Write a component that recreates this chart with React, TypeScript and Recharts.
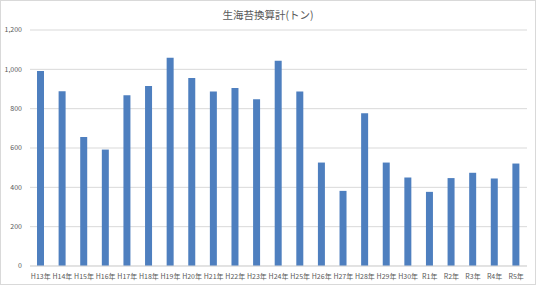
import { BarChart, Bar, XAxis, YAxis, CartesianGrid } from "recharts";

const years = [
  "H13年", "H14年", "H15年", "H16年", "H17年", "H18年", "H19年", "H20年",
  "H21年", "H22年", "H23年", "H24年", "H25年", "H26年", "H27年", "H28年",
  "H29年", "H30年", "R1年", "R2年", "R3年", "R4年", "R5年",
];

const tons = [
  991, 888, 656, 592, 868, 915, 1059, 956,
  887, 905, 848, 1044, 887, 526, 382, 777,
  526, 450, 377, 447, 474, 445, 521,
];

const yTicks = [0, 200, 400, 600, 800, 1000, 1200];

const data = years.map((name, i) => ({ name, value: tons[i] }));

const font = "'Noto Sans CJK JP', 'Noto Sans', sans-serif";

export default function App() {
  return (
    <div
      style={{
        position: "fixed",
        left: 0,
        top: 0,
        width: 536,
        height: 285,
        background: "#fff",
        border: "1px solid #d9d9d9",
        boxSizing: "border-box",
        fontFamily: font,
      }}
    >
      <div
        style={{
          position: "absolute",
          top: 6,
          width: "100%",
          textAlign: "center",
          fontSize: 10.5,
          color: "#595959",
        }}
      >
        生海苔換算計(トン)
      </div>
      <BarChart
        width={534}
        height={283}
        data={data}
        margin={{ top: 29, right: 8, left: -1, bottom: 0 }}
        style={{ position: "absolute", left: 0, top: 0 }}
      >
        <CartesianGrid vertical={false} stroke="#d9d9d9" />
        <XAxis
          dataKey="name"
          height={18}
          tickLine={false}
          axisLine={{ stroke: "#d9d9d9" }}
          interval={0}
          tick={{ fontSize: 7, fill: "#595959" }}
          tickMargin={2}
        />
        <YAxis
          width={30}
          domain={[0, 1200]}
          ticks={yTicks}
          tickFormatter={(v: number) => v.toLocaleString("en-US")}
          tickLine={false}
          axisLine={false}
          tick={{ fontSize: 7, fill: "#595959" }}
        />
        <Bar dataKey="value" fill="#4e7fbf" barSize={7} isAnimationActive={false} />
      </BarChart>
    </div>
  );
}
